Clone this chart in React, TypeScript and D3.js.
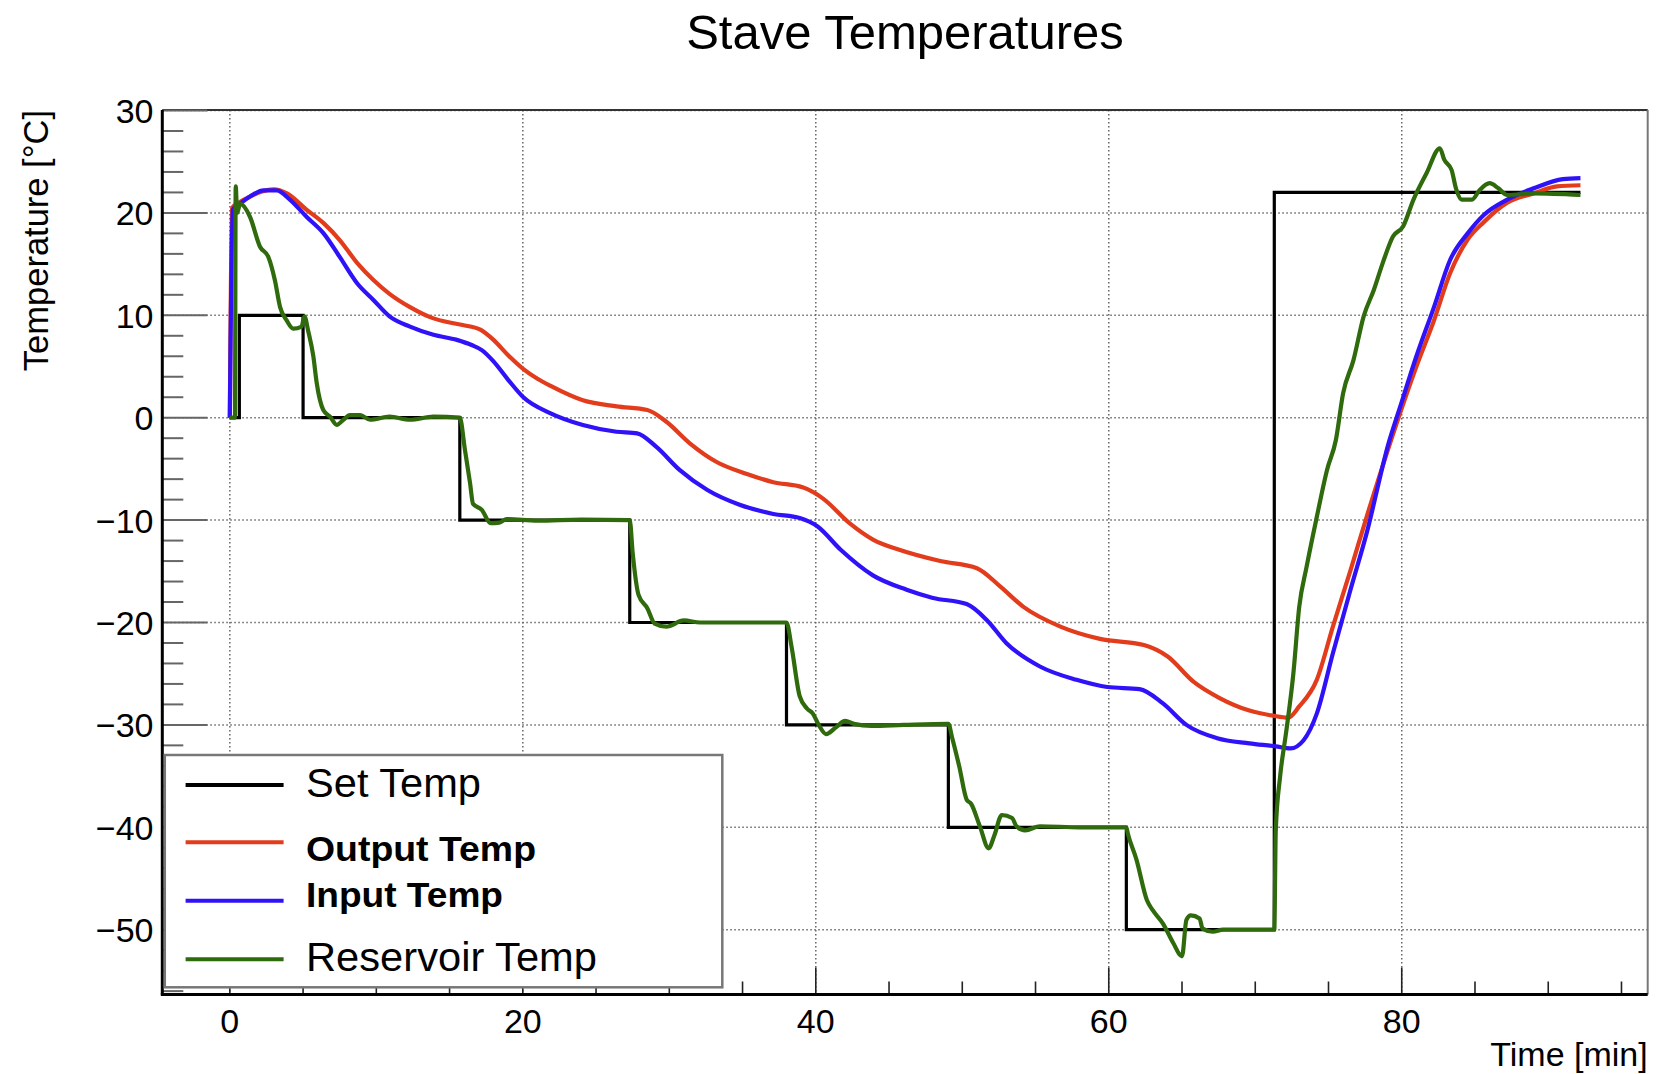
import React from "react";
import * as d3 from "d3";

const width = 1673;
const height = 1074;
const frame = { left: 162.3, right: 1647.7, top: 110, bottom: 994.5 };

// set point of the chiller (step function)
const setTime = [0, 0.65, 5.0, 15.7, 27.3, 38.0, 49.05, 61.2, 71.3, 92.2];
const setTemp = [0, 10, 0, -10, -20, -30, -40, -50, 22, 22];

// output temperature (red)
const outputTime = [
  0, 0.15, 0.6, 1.38, 2.2, 3.0, 3.9, 5.25, 6.4, 7.5, 8.7, 9.8, 10.9, 12.3, 13.9, 15.0,
  15.9, 17.1, 18.0, 19.0, 20.0, 21.0, 21.9, 24.1, 26.4, 28.5, 29.8, 31.4, 33.2, 35.3,
  37.1, 39.1, 40.5, 42.3, 43.9, 45.7, 48.5, 51.0, 52.6, 54.2, 56.7, 59.4, 62.4, 64.0,
  65.8, 67.6, 69.6, 71.2, 72.25, 73.0, 74.2, 75.3, 76.5, 77.6, 79.2, 81.0, 82.2, 83.3,
  84.5, 85.6, 87.2, 89.0, 90.6, 92.2,
];
const outputTemp = [
  0, 20.5, 21.0, 21.6, 22.1, 22.3, 21.9, 20.3, 19.0, 17.35, 15.1, 13.45, 12.1, 10.8, 9.7, 9.3,
  9.05, 8.6, 7.6, 6.1, 4.8, 3.8, 3.1, 1.7, 1.1, 0.75, -0.4, -2.5, -4.3, -5.5,
  -6.3, -6.8, -7.9, -10.3, -11.9, -12.9, -14.0, -14.7, -16.5, -18.5, -20.4, -21.6, -22.2, -23.3,
  -25.8, -27.4, -28.6, -29.1, -29.3, -28.2, -25.6, -20.4, -14.9, -9.7, -2.5, 5.0, 9.5, 14.1,
  17.4, 19.1, 21.0, 21.9, 22.6, 22.7,
];

// input temperature (blue)
const inputTime = [
  0, 0.2, 0.7, 1.38, 2.3, 3.2, 4.1, 5.25, 6.4, 7.5, 8.7, 9.8, 10.9, 12.3, 13.9, 15.5,
  16.5, 17.2, 18.0, 19.0, 20.0, 21.9, 24.1, 26.4, 27.8, 29.1, 30.7, 32.6, 34.8, 37.1,
  38.9, 40.1, 41.7, 43.9, 46.2, 48.0, 50.3, 51.7, 53.0, 55.3, 57.8, 59.9, 62.1, 63.7,
  65.3, 67.4, 69.6, 71.4, 72.4, 73.3, 74.2, 75.3, 76.5, 77.6, 79.1, 79.9, 81.0, 82.2,
  83.3, 84.5, 85.6, 87.2, 89.0, 91.0, 92.2,
];
const inputTemp = [
  0, 20.3, 20.9, 21.6, 22.2, 22.2, 21.3, 19.6, 18.0, 15.7, 13.1, 11.5, 9.9, 8.9, 8.1, 7.6,
  7.1, 6.6, 5.5, 3.7, 2.05, 0.43, -0.71, -1.37, -1.53, -2.83, -5.1, -7.06, -8.5, -9.4,
  -9.8, -10.6, -12.9, -15.4, -16.8, -17.6, -18.2, -19.8, -22.0, -24.3, -25.6, -26.3, -26.5, -27.9,
  -30.0, -31.3, -31.8, -32.1, -32.3, -31.5, -28.9, -23.0, -16.8, -11.3, -2.5, 1.1, 6.0, 10.8,
  15.4, 18.0, 19.8, 21.3, 22.4, 23.3, 23.4,
];

// reservoir temperature (green)
const reservoirTime = [
  0, 0.35, 0.4, 0.5, 0.7, 1.38, 2.06, 2.63, 3.08, 3.43, 3.88, 4.33, 4.9, 5.09, 5.36, 5.7,
  5.93, 6.38, 6.84, 7.3, 7.75, 8.2, 8.9, 9.57, 10.9, 12.3, 13.9, 15.7, 16.05, 16.4, 16.6,
  17.2, 17.8, 18.4, 18.9, 21.0, 24.0, 27.3, 27.5, 27.9, 28.5, 29.0, 29.8, 31.0, 32.1, 35.0,
  38.0, 38.35, 38.9, 39.4, 39.8, 40.2, 40.7, 41.4, 42.0, 42.6, 43.8, 46.0, 49.05, 49.3, 49.8,
  50.3, 50.6, 51.2, 51.8, 52.2, 52.7, 53.4, 53.7, 54.3, 55.3, 58.0, 61.2, 61.3, 61.9, 62.6,
  63.0, 63.7, 64.4, 65.0, 65.3, 65.6, 66.2, 66.4, 67.1, 67.8, 71.3, 71.4, 71.7, 72.1, 72.6,
  73.0, 73.5, 74.2, 74.9, 75.5, 76.0, 76.7, 77.4, 78.1, 78.7, 79.4, 80.1, 80.8, 81.7, 82.6,
  82.9, 83.4, 83.7, 84.1, 84.8, 85.3, 86.0, 86.6, 87.2, 89.0, 92.2,
];
const reservoirTemp = [
  0, 0, 22.6, 20.0, 20.9, 19.6, 16.7, 15.7, 13.4, 10.8, 9.5, 8.7, 8.9, 9.9, 8.4, 6.0,
  3.4, 0.75, 0.1, -0.7, -0.2, 0.26, 0.26, -0.2, 0.1, -0.2, 0.1, 0.0, -3.15, -6.4, -8.4,
  -9.0, -10.3, -10.25, -9.9, -10.05, -9.95, -10.0, -13.2, -17.3, -18.6, -20.1, -20.4, -19.8, -20.0, -20.0,
  -20.0, -22.4, -27.2, -28.4, -28.9, -30.0, -30.9, -30.2, -29.6, -29.9, -30.1, -30.0, -29.9, -31.2, -34.1,
  -37.3, -37.7, -39.9, -42.05, -40.75, -38.8, -39.1, -39.9, -40.3, -39.9, -40.0, -40.0, -40.6, -43.2, -47.1,
  -48.1, -49.4, -51.3, -52.6, -49.05, -48.6, -48.9, -49.9, -50.2, -50.0, -50.0, -40.3, -35.0, -30.8, -25.0,
  -18.5, -14.6, -9.7, -5.1, -2.2, 2.4, 5.6, 9.9, 12.5, 15.1, 17.7, 18.7, 21.3, 23.9, 26.3,
  25.2, 24.2, 22.4, 21.3, 21.3, 22.2, 22.9, 22.4, 21.75, 21.9, 21.75,
];

const legendLabels = ["Set Temp", "Output Temp", "Input Temp", "Reservoir Temp"];
const xMajorTicks = [0, 20, 40, 60, 80];
const yMajorTicks = [-50, -40, -30, -20, -10, 0, 10, 20, 30];

const font = "'Liberation Sans', Arial, Helvetica, sans-serif";

const series = [
  { name: "Output Temp", t: outputTime, v: outputTemp, color: "#e23c1c" },
  { name: "Input Temp", t: inputTime, v: inputTemp, color: "#2f12f8" },
  { name: "Reservoir Temp", t: reservoirTime, v: reservoirTemp, color: "#2f6a0c" },
];

function fmt(v: number) {
  return v < 0 ? "\u2212" + Math.abs(v) : String(v);
}

export default function App() {
  const x = d3.scaleLinear().domain([-4.61, 96.79]).range([frame.left, frame.right]);
  const y = d3.scaleLinear().domain([-56.33, 30.05]).range([frame.bottom, frame.top]);

  const line = d3
    .line<[number, number]>()
    .x((d) => x(d[0]))
    .y((d) => y(d[1]))
    .curve(d3.curveMonotoneX);
  const stepLine = d3
    .line<[number, number]>()
    .x((d) => x(d[0]))
    .y((d) => y(d[1]))
    .curve(d3.curveStepAfter);

  const xMinor = d3.range(0, 96, 5).filter((v) => v % 20 !== 0);
  const yMinor = d3.range(-56, 31, 2).filter((v) => v % 10 !== 0);

  const setPts = setTime.map((t, i) => [t, setTemp[i]] as [number, number]);

  // legend geometry
  const lg = { x0: 164.8, y0: 755, x1: 722.3, y1: 987.3 };
  const lgLineY = [785, 842.3, 900.7, 959.3];
  const lgColors = ["#000000", "#e23c1c", "#2f12f8", "#2f6a0c"];
  const lgTextY = [797, 861, 907, 971];
  const lgBold = [false, true, true, false];
  const lgLen = [175, 230, 197, 291];

  return (
    <svg
      width={width}
      height={height}
      style={{ position: "absolute", left: 0, top: 0, background: "#fff" }}
      fontFamily={font}
    >
      <rect width={width} height={height} fill="#fff" />
      <text x={905} y={48.5} textAnchor="middle" fontSize={49} fill="#000">
        Stave Temperatures
      </text>

      {/* grid */}
      <g stroke="#666" strokeWidth={1.5} strokeDasharray="1.5,2.5" fill="none">
        {xMajorTicks.map((v) => (
          <line key={"gx" + v} x1={x(v)} x2={x(v)} y1={frame.top} y2={frame.bottom} />
        ))}
        {yMajorTicks.map((v) => (
          <line key={"gy" + v} x1={frame.left} x2={frame.right} y1={y(v)} y2={y(v)} />
        ))}
      </g>

      {/* frame */}
      <line x1={frame.left} x2={frame.right} y1={frame.top} y2={frame.top} stroke="#333" strokeWidth={2} />
      <line x1={frame.right} x2={frame.right} y1={frame.top} y2={frame.bottom} stroke="#777" strokeWidth={2} />

      {/* y ticks */}
      <g stroke="#666" strokeWidth={2}>
        {yMajorTicks.map((v) => (
          <line key={"ty" + v} x1={frame.left} x2={frame.left + 45} y1={y(v)} y2={y(v)} />
        ))}
        {yMinor.map((v) => (
          <line key={"tym" + v} x1={frame.left} x2={frame.left + 21} y1={y(v)} y2={y(v)} />
        ))}
      </g>
      {/* x ticks */}
      <g stroke="#222" strokeWidth={1.6}>
        {xMajorTicks.map((v) => (
          <line key={"tx" + v} x1={x(v)} x2={x(v)} y1={frame.bottom} y2={frame.bottom - 27} />
        ))}
        {xMinor.map((v) => (
          <line key={"txm" + v} x1={x(v)} x2={x(v)} y1={frame.bottom} y2={frame.bottom - 13} />
        ))}
      </g>

      {/* data */}
      <path d={stepLine(setPts) || ""} fill="none" stroke="#000" strokeWidth={3.2} />
      {series.map((s) => (
        <path
          key={s.name}
          d={line(s.t.map((t, i) => [t, s.v[i]] as [number, number])) || ""}
          fill="none"
          stroke={s.color}
          strokeWidth={4.2}
          strokeLinejoin="round"
        />
      ))}

      {/* axes */}
      <line x1={frame.left} x2={frame.left} y1={frame.top} y2={frame.bottom} stroke="#000" strokeWidth={3} />
      <line x1={frame.left - 1.5} x2={frame.right} y1={frame.bottom} y2={frame.bottom} stroke="#000" strokeWidth={3} />

      {/* tick labels */}
      {yMajorTicks.map((v) => (
        <text key={"ly" + v} x={153.5} y={y(v) + 12.5} textAnchor="end" fontSize={34} fill="#000">
          {fmt(v)}
        </text>
      ))}
      {xMajorTicks.map((v) => (
        <text key={"lx" + v} x={x(v)} y={1032.5} textAnchor="middle" fontSize={34} fill="#000">
          {fmt(v)}
        </text>
      ))}

      {/* axis titles */}
      <text x={frame.right} y={1066} textAnchor="end" fontSize={34} fill="#000">
        Time [min]
      </text>
      <text
        transform={`translate(47.5,${frame.top}) rotate(-90)`}
        textAnchor="end"
        fontSize={34.5}
        fill="#000"
      >
        Temperature [°C]
      </text>

      {/* legend */}
      <rect
        x={lg.x0}
        y={lg.y0}
        width={lg.x1 - lg.x0}
        height={lg.y1 - lg.y0}
        fill="#fff"
        stroke="#777"
        strokeWidth={2.5}
      />
      {legendLabels.map((label, i) => (
        <g key={label}>
          <line x1={185.6} x2={283.6} y1={lgLineY[i]} y2={lgLineY[i]} stroke={lgColors[i]} strokeWidth={4} />
          <text
            x={306}
            y={lgTextY[i]}
            fontSize={lgBold[i] ? 35 : 40.5}
            fontWeight={lgBold[i] ? "bold" : "normal"}
            textLength={lgLen[i]}
            lengthAdjust="spacingAndGlyphs"
            fill="#000"
          >
            {label}
          </text>
        </g>
      ))}
    </svg>
  );
}
